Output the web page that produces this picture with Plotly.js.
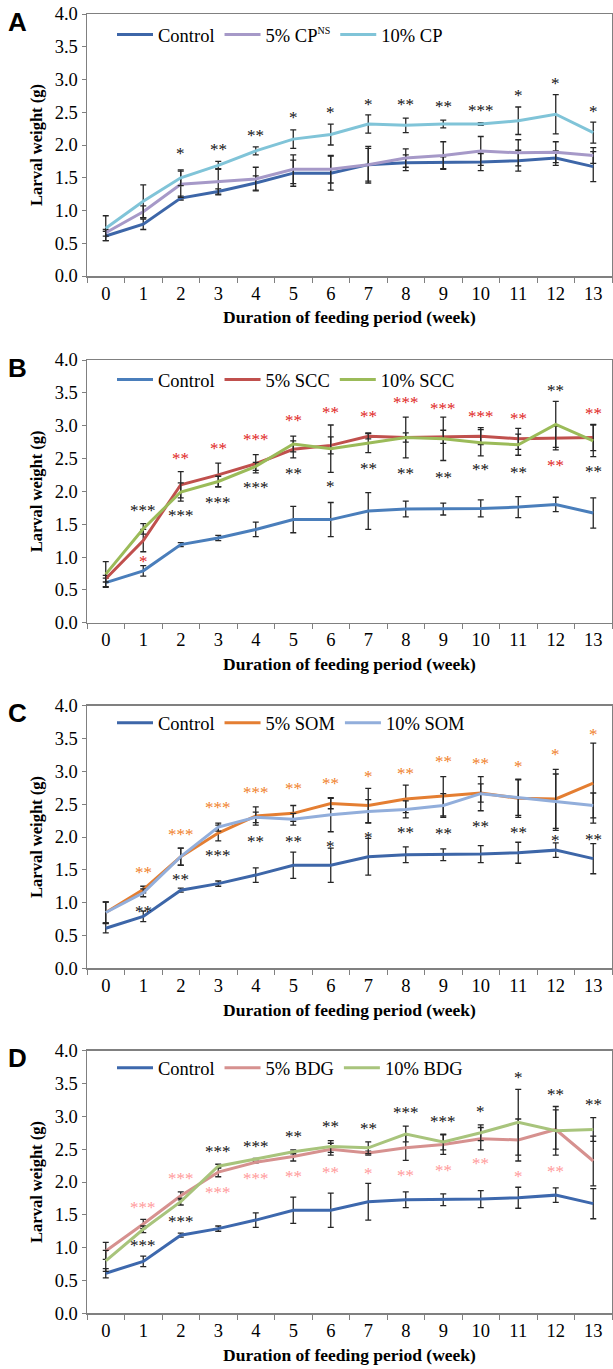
<!DOCTYPE html>
<html><head><meta charset="utf-8">
<script src="https://cdn.plot.ly/plotly-3.0.1.min.js"></script>
<style>html,body{margin:0;padding:0;background:#fff}</style>
</head><body><div id="chart" style="width:613px;height:1369px"></div>
<script>
// ---------- data ----------
const weeks = ['0','1','2','3','4','5','6','7','8','9','10','11','12','13'];

const control    = [0.61,0.79,1.19,1.29,1.42,1.57,1.57,1.70,1.73,1.73,1.74,1.76,1.80,1.67];
const controlErr = [0.07,0.08,0.03,0.04,0.11,0.20,0.26,0.28,0.12,0.09,0.13,0.16,0.11,0.23];

// Panel A
const cp5     = [0.66,0.98,1.40,1.44,1.48,1.63,1.63,1.70,1.80,1.84,1.91,1.88,1.89,1.84];
const cp5Err  = [0.05,0.09,0.20,0.20,0.18,0.22,0.21,0.25,0.14,0.21,0.22,0.20,0.16,0.12];
const cp10    = [0.73,1.14,1.50,1.69,1.91,2.09,2.16,2.32,2.30,2.32,2.32,2.37,2.47,2.19];
const cp10Err = [0.19,0.25,0.12,0.06,0.06,0.14,0.16,0.14,0.11,0.06,0.02,0.21,0.30,0.16];
const starsA     = ['','','*','**','**','*','*','*','**','**','***','*','*','*'];
const starsAY    = [null,null,1.91,1.97,2.19,2.46,2.54,2.66,2.66,2.64,2.57,2.80,2.98,2.56];

// Panel B
const scc5     = [0.67,1.25,2.10,2.25,2.42,2.64,2.70,2.84,2.82,2.83,2.84,2.80,2.81,2.82];
const scc5Err  = [0.05,0.17,0.20,0.18,0.14,0.13,0.13,0.04,0.07,0.10,0.13,0.16,0.18,0.20];
const scc10    = [0.74,1.43,1.99,2.15,2.38,2.72,2.65,2.74,2.82,2.80,2.74,2.71,3.02,2.77];
const scc10Err = [0.19,0.08,0.14,0.08,0.06,0.12,0.36,0.15,0.31,0.33,0.20,0.16,0.35,0.24];
const starsB5   = ['','*','**','**','***','**','**','**','***','***','***','**','**','**'];
const starsB5Y  = [null,0.98,2.55,2.70,2.83,3.12,3.25,3.19,3.40,3.30,3.18,3.15,2.44,3.23];
const starsB10  = ['','***','***','***','***','**','*','**','**','**','**','**','**','**'];
const starsB10Y = [null,1.76,1.675,1.87,2.11,2.31,2.12,2.39,2.31,2.26,2.38,2.34,3.58,2.35];

// Panel C
const som5     = [0.85,1.20,1.70,2.06,2.32,2.36,2.51,2.48,2.58,2.62,2.67,2.59,2.58,2.82];
const som5Err  = [0.16,0.05,0.13,0.12,0.14,0.12,0.08,0.26,0.21,0.30,0.14,0.29,0.45,0.61];
const som10    = [0.85,1.15,1.70,2.15,2.30,2.27,2.34,2.39,2.42,2.48,2.66,2.60,2.53,2.48];
const som10Err = [0.16,0.06,0.13,0.06,0.08,0.09,0.26,0.18,0.13,0.18,0.26,0.27,0.43,0.19];
const starsC5   = ['','**','***','***','***','**','**','*','**','**','**','*','*','*'];
const starsC5Y  = [null,1.51,2.08,2.49,2.72,2.78,2.86,2.96,3.02,3.20,3.17,3.12,3.30,3.60];
const starsC10  = ['','**','**','***','**','**','*','*','**','**','**','**','*','**'];
const starsC10Y = [null,0.91,1.40,1.76,1.97,1.97,1.90,2.04,2.12,2.10,2.21,2.11,2.00,2.01];

// Panel D
const bdg5     = [0.95,1.36,1.79,2.15,2.30,2.39,2.50,2.44,2.52,2.57,2.66,2.64,2.80,2.32];
const bdg5Err  = [0.13,0.07,0.06,0.07,0.01,0.07,0.09,0.03,0.19,0.15,0.17,0.32,0.30,0.38];
const bdg10    = [0.80,1.28,1.70,2.24,2.35,2.46,2.54,2.52,2.73,2.61,2.75,2.91,2.78,2.80];
const bdg10Err = [0.16,0.05,0.05,0.03,0.01,0.03,0.09,0.09,0.12,0.12,0.12,0.50,0.37,0.18];
const starsD10  = ['','***','***','***','***','**','**','**','***','***','*','*','**','**'];
const starsD10Y = [null,1.08,1.44,2.51,2.59,2.74,2.89,2.86,3.11,2.97,3.12,3.64,3.38,3.22];
const starsD5   = ['','***','***','***','***','**','**','*','**','**','**','*','**',''];
const starsD5Y  = [null,1.66,2.10,1.88,2.10,2.13,2.19,2.18,2.15,2.22,2.32,2.13,2.21,null];

// ---------- layout helpers ----------
const W = 613, H = 1369;
const SERIF = 'Liberation Serif';
const xDom = [87/W, 612/W];
const panels = [
  {top:14,    bot:276,    letter:'A', ly:35},
  {top:360,   bot:622.7,  letter:'B', ly:380},
  {top:705.7, bot:968.3,  letter:'C', ly:723.3},
  {top:1050.7,bot:1313.3, letter:'D', ly:1068.3}
];
const py = p => 1 - p / H;

const traces = [];
const annotations = [];
const layout = {
  width: W, height: H,
  margin: {l:0, r:0, t:0, b:0},
  paper_bgcolor: '#fff', plot_bgcolor: '#fff',
  showlegend: true,
  font: {family: SERIF, color: '#000'}
};

function eb(arr){ return {type:'data', array:arr, visible:true, color:'#262626', thickness:1.3, width:3}; }

function addPanel(i, series, starSets){
  const n = i === 0 ? '' : String(i+1);
  const xa = 'x' + n, ya = 'y' + n;
  const lg = i === 0 ? 'legend' : 'legend' + (i+1);
  series.forEach(s => {
    traces.push({
      type:'scatter', mode:'lines', x: weeks, y: s.y, name: s.name,
      xaxis: xa, yaxis: ya, legend: lg,
      line: {color: s.color, width: 3},
      error_y: eb(s.err), hoverinfo:'skip'
    });
  });
  const P = panels[i];
  layout['xaxis' + n] = {
    domain: xDom, anchor: ya, type:'category', range:[-0.5, 13.5],
    tickson:'boundaries', ticks:'outside', ticklen:5, tickcolor:'#808080',
    showline:true, linecolor:'#808080', linewidth:1.5, mirror:true,
    showgrid:false, zeroline:false, fixedrange:true,
    tickfont:{family:SERIF, size:18.5, color:'#000'},
    title:{text:'<b>Duration of feeding period (week)</b>', font:{family:SERIF, size:17.5, color:'#000'}, standoff:8}
  };
  layout['yaxis' + n] = {
    domain:[py(P.bot), py(P.top)], anchor: xa, range:[0,4], dtick:0.5, tickformat:'.1f',
    ticks:'outside', ticklen:4, tickcolor:'#808080',
    showline:true, linecolor:'#808080', linewidth:1.5, mirror:true,
    showgrid:false, zeroline:false, fixedrange:true,
    tickfont:{family:SERIF, size:18.5, color:'#000'},
    title:{text:'<b>Larval weight (g)</b>', font:{family:SERIF, size:16.5, color:'#000'}, standoff:8}
  };
  layout[lg] = {
    orientation:'h', x: 112/W, y: py(P.ly), xanchor:'left', yanchor:'middle',
    font:{family:SERIF, size:18.5, color:'#000'}, bgcolor:'rgba(0,0,0,0)',
    itemwidth:36,
    itemclick:false, itemdoubleclick:false, traceorder:'normal'
  };
  annotations.push({
    xref:'paper', yref:'paper', x: 17/W, y: py(P.top + 7.5), xanchor:'center', yanchor:'middle',
    text:'<b>' + P.letter + '</b>', showarrow:false,
    font:{family:'Liberation Sans', size:26, color:'#000'}
  });
  starSets.forEach(st => {
    st.labels.forEach((t, k) => {
      if (!t) return;
      annotations.push({
        xref: xa, yref: ya, x: k, y: st.ys[k], text: t, showarrow:false,
        xanchor:'center', yanchor:'middle', yshift:-3,
        font:{family:SERIF, size:17, color: st.color}
      });
    });
  });
}

addPanel(0, [
  {name:'Control', y:control, err:controlErr, color:'#3D66A8'},
  {name:'5% CP<sup><span style="font-size:10px">NS</span></sup>', y:cp5, err:cp5Err, color:'#A699C8'},
  {name:'10% CP', y:cp10, err:cp10Err, color:'#80C4D8'}
], [{labels:starsA, ys:starsAY, color:'#111'}]);

addPanel(1, [
  {name:'Control', y:control, err:controlErr, color:'#4A7EBB'},
  {name:'5% SCC', y:scc5, err:scc5Err, color:'#C0504D'},
  {name:'10% SCC', y:scc10, err:scc10Err, color:'#9BBB59'}
], [{labels:starsB5, ys:starsB5Y, color:'#E02424'}, {labels:starsB10, ys:starsB10Y, color:'#111'}]);

addPanel(2, [
  {name:'Control', y:control, err:controlErr, color:'#3D66A8'},
  {name:'5% SOM', y:som5, err:som5Err, color:'#E47E32'},
  {name:'10% SOM', y:som10, err:som10Err, color:'#92AEDB'}
], [{labels:starsC5, ys:starsC5Y, color:'#F07F2B'}, {labels:starsC10, ys:starsC10Y, color:'#111'}]);

addPanel(3, [
  {name:'Control', y:control, err:controlErr, color:'#3D68AD'},
  {name:'5% BDG', y:bdg5, err:bdg5Err, color:'#D6918F'},
  {name:'10% BDG', y:bdg10, err:bdg10Err, color:'#A8C47C'}
], [{labels:starsD10, ys:starsD10Y, color:'#111'}, {labels:starsD5, ys:starsD5Y, color:'#FF9A9A'}]);

layout.annotations = annotations;
Plotly.newPlot('chart', traces, layout, {displayModeBar:false, staticPlot:true});
</script></body></html>
